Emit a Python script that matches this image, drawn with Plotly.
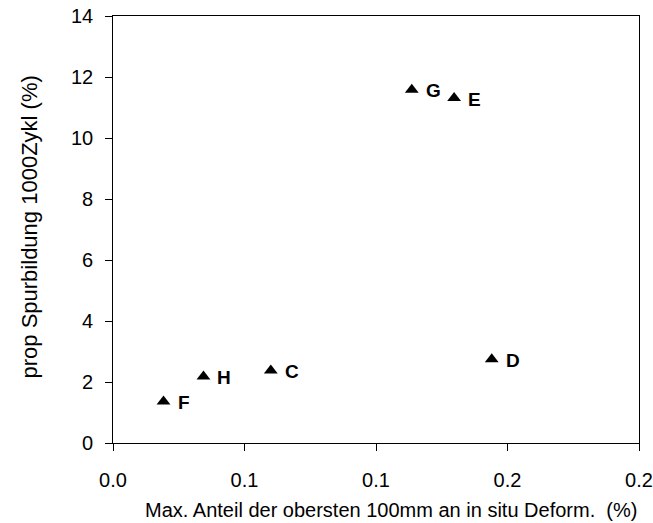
import plotly.graph_objects as go

# Test sections and their measured values
labels = ["F", "H", "C", "D", "G", "E"]
anteil = [0.0192, 0.0344, 0.0600, 0.1440, 0.1136, 0.1297]
spurbildung = [1.36, 2.18, 2.38, 2.75, 11.58, 11.31]

x_tickvals = [0.0, 0.05, 0.10, 0.15, 0.20]
x_ticktext = ["0.0", "0.1", "0.1", "0.2", "0.2"]
y_tickvals = [0, 2, 4, 6, 8, 10, 12, 14]

font_family = "Liberation Sans, Arial, sans-serif"
black_font = lambda size: dict(family=font_family, size=size, color="black")

fig = go.Figure()
fig.add_trace(go.Scatter(
    x=anteil, y=spurbildung, mode="markers",
    marker=dict(symbol="triangle-up", size=12, color="black"),
    showlegend=False, cliponaxis=False,
))

# point labels
for lab, xv, yv in zip(labels, anteil, spurbildung):
    fig.add_annotation(
        x=xv, y=yv, text=f"<b>{lab}</b>", showarrow=False,
        xanchor="left", yanchor="middle", xshift=12, yshift=-1,
        font=black_font(19),
    )

# y tick labels, set a little further away from the axis line
for v in y_tickvals:
    fig.add_annotation(
        xref="paper", yref="y", x=0, y=v, text=str(v), showarrow=False,
        xanchor="right", yanchor="middle", xshift=-18,
        font=black_font(20),
    )

# axis titles
fig.add_annotation(
    xref="paper", yref="paper", x=0.5285, y=-0.158,
    xanchor="center", yanchor="middle", showarrow=False,
    text="Max. Anteil der obersten 100mm an in situ Deform.\u00a0\u00a0(%)",
    font=black_font(20),
)
fig.add_annotation(
    xref="paper", yref="paper", x=0, y=0.5047, xshift=-84,
    xanchor="center", yanchor="middle", showarrow=False, textangle=-90,
    text="prop Spurbildung 1000Zykl (%)",
    font=black_font(22),
)

axis_common = dict(
    showline=True, linecolor="black", linewidth=1, mirror=True,
    ticks="outside", ticklen=7, tickcolor="black", tickwidth=1,
    showgrid=False, zeroline=False, automargin=False,
    tickfont=black_font(20),
)

fig.update_xaxes(
    range=[0, 0.2], tickvals=x_tickvals, ticktext=x_ticktext,
    ticklabelstandoff=12,
    **axis_common,
)
fig.update_yaxes(
    range=[0, 14], tickvals=y_tickvals, showticklabels=False,
    **axis_common,
)

fig.update_layout(
    width=653, height=523,
    margin=dict(l=113, r=14, t=16, b=80),
    paper_bgcolor="white", plot_bgcolor="white",
)

fig.write_html("out.html")
